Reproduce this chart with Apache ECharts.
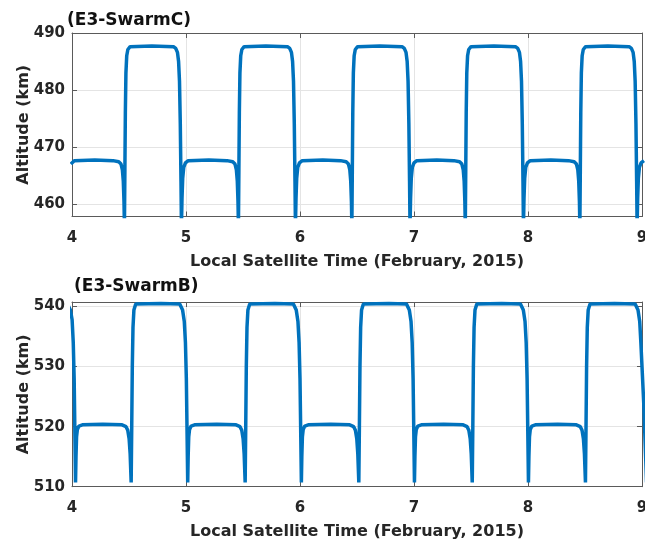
<!DOCTYPE html>
<html>
<head>
<meta charset="utf-8">
<title>Swarm altitude</title>
<script src="https://cdn.jsdelivr.net/npm/echarts@6/dist/echarts.min.js"></script>
<style>
  html, body { margin: 0; padding: 0; background: #fff; }
  #chart { width: 645px; height: 545px; }
</style>
</head>
<body>
<div id="chart"></div>
<script>
// 数据: [local satellite time (day of Feb 2015), altitude km]
var titles = ["(E3-SwarmC)", "(E3-SwarmB)"];
var xName = "Local Satellite Time (February, 2015)";
var yName = "Altitude (km)";
var xTicks = [4, 5, 6, 7, 8, 9];

// SwarmC - 上图
var swarmC = [
  [3.990, 467.0], [3.995, 467.2], [4.020, 467.6], [4.200, 467.7],
  [4.360, 467.6], [4.410, 467.4], [4.430, 467.0], [4.442, 466.0], [4.450, 464.0], [4.456, 460.5], [4.460, 456.0],
  [4.464, 466.0], [4.468, 476.0], [4.473, 483.0], [4.480, 486.0], [4.490, 487.1], [4.510, 487.6], [4.700, 487.7],
  [4.890, 487.6], [4.910, 487.3], [4.925, 486.6], [4.935, 485.0], [4.943, 481.5], [4.950, 474.0], [4.956, 464.0], [4.960, 456.0],
  [4.965, 461.0], [4.971, 464.5], [4.980, 466.4], [4.995, 467.2], [5.020, 467.6], [5.200, 467.7],
  [5.360, 467.6], [5.410, 467.4], [5.430, 467.0], [5.442, 466.0], [5.450, 464.0], [5.456, 460.5], [5.460, 456.0],
  [5.464, 466.0], [5.468, 476.0], [5.473, 483.0], [5.480, 486.0], [5.490, 487.1], [5.510, 487.6], [5.700, 487.7],
  [5.890, 487.6], [5.910, 487.3], [5.925, 486.6], [5.935, 485.0], [5.943, 481.5], [5.950, 474.0], [5.956, 464.0], [5.960, 456.0],
  [5.965, 461.0], [5.971, 464.5], [5.980, 466.4], [5.995, 467.2], [6.020, 467.6], [6.200, 467.7],
  [6.355, 467.6], [6.405, 467.4], [6.425, 467.0], [6.437, 466.0], [6.445, 464.0], [6.451, 460.5], [6.455, 456.0],
  [6.459, 466.0], [6.463, 476.0], [6.468, 483.0], [6.475, 486.0], [6.485, 487.1], [6.505, 487.6], [6.700, 487.7],
  [6.895, 487.6], [6.915, 487.3], [6.930, 486.6], [6.940, 485.0], [6.948, 481.5], [6.955, 474.0], [6.961, 464.0], [6.965, 456.0],
  [6.970, 461.0], [6.976, 464.5], [6.985, 466.4], [7.000, 467.2], [7.025, 467.6], [7.200, 467.7],
  [7.350, 467.6], [7.400, 467.4], [7.420, 467.0], [7.432, 466.0], [7.440, 464.0], [7.446, 460.5], [7.450, 456.0],
  [7.454, 466.0], [7.458, 476.0], [7.463, 483.0], [7.470, 486.0], [7.480, 487.1], [7.500, 487.6], [7.700, 487.7],
  [7.890, 487.6], [7.910, 487.3], [7.925, 486.6], [7.935, 485.0], [7.943, 481.5], [7.950, 474.0], [7.956, 464.0], [7.960, 456.0],
  [7.965, 461.0], [7.971, 464.5], [7.980, 466.4], [7.995, 467.2], [8.020, 467.6], [8.200, 467.7],
  [8.355, 467.6], [8.405, 467.4], [8.425, 467.0], [8.437, 466.0], [8.445, 464.0], [8.451, 460.5], [8.455, 456.0],
  [8.459, 466.0], [8.463, 476.0], [8.468, 483.0], [8.475, 486.0], [8.485, 487.1], [8.505, 487.6], [8.700, 487.7],
  [8.887, 487.6], [8.907, 487.3], [8.922, 486.6], [8.932, 485.0], [8.940, 481.5], [8.947, 474.0], [8.953, 464.0], [8.957, 456.0],
  [8.962, 461.0], [8.968, 464.5], [8.977, 466.4], [8.992, 467.2], [9.017, 467.6]
];

// SwarmB - 下图
var swarmB = [
  [3.961, 540.4], [3.986, 539.4], [4.001, 537.8], [4.011, 534.0], [4.019, 528.0], [4.026, 518.0], [4.031, 510.7],
  [4.035, 515.0], [4.040, 518.3], [4.047, 519.5], [4.061, 520.1], [4.091, 520.3], [4.270, 520.4],
  [4.439, 520.3], [4.474, 520.0], [4.489, 519.4], [4.501, 518.0], [4.510, 515.5], [4.519, 510.7],
  [4.524, 520.0], [4.529, 530.0], [4.535, 536.5], [4.543, 539.4], [4.559, 540.4], [4.780, 540.5],
  [4.945, 540.4], [4.970, 539.4], [4.985, 537.5], [4.995, 534.0], [5.003, 528.0], [5.010, 518.0], [5.015, 510.7],
  [5.019, 515.0], [5.024, 518.3], [5.031, 519.5], [5.045, 520.1], [5.075, 520.3], [5.270, 520.4],
  [5.439, 520.3], [5.474, 520.0], [5.489, 519.4], [5.501, 518.0], [5.510, 515.5], [5.519, 510.7],
  [5.524, 520.0], [5.529, 530.0], [5.535, 536.5], [5.543, 539.4], [5.559, 540.4], [5.780, 540.5],
  [5.942, 540.4], [5.967, 539.4], [5.982, 537.5], [5.992, 534.0], [6.000, 528.0], [6.007, 518.0], [6.012, 510.7],
  [6.016, 515.0], [6.021, 518.3], [6.028, 519.5], [6.042, 520.1], [6.072, 520.3], [6.270, 520.4],
  [6.436, 520.3], [6.471, 520.0], [6.486, 519.4], [6.498, 518.0], [6.507, 515.5], [6.516, 510.7],
  [6.521, 520.0], [6.526, 530.0], [6.532, 536.5], [6.540, 539.4], [6.556, 540.4], [6.780, 540.5],
  [6.934, 540.4], [6.959, 539.4], [6.974, 537.5], [6.984, 534.0], [6.992, 528.0], [6.999, 518.0], [7.004, 510.7],
  [7.008, 515.0], [7.013, 518.3], [7.020, 519.5], [7.034, 520.1], [7.064, 520.3], [7.260, 520.4],
  [7.431, 520.3], [7.466, 520.0], [7.481, 519.4], [7.493, 518.0], [7.502, 515.5], [7.511, 510.7],
  [7.516, 520.0], [7.521, 530.0], [7.527, 536.5], [7.535, 539.4], [7.551, 540.4], [7.770, 540.5],
  [7.934, 540.4], [7.959, 539.4], [7.974, 537.5], [7.984, 534.0], [7.992, 528.0], [7.999, 518.0], [8.004, 510.7],
  [8.008, 515.0], [8.013, 518.3], [8.020, 519.5], [8.034, 520.1], [8.064, 520.3], [8.260, 520.4],
  [8.424, 520.3], [8.459, 520.0], [8.474, 519.4], [8.486, 518.0], [8.495, 515.5], [8.504, 510.7],
  [8.509, 520.0], [8.514, 530.0], [8.520, 536.5], [8.528, 539.4], [8.544, 540.4], [8.760, 540.5],
  [8.940, 540.4], [8.965, 539.4], [8.980, 537.5], [8.990, 534.0], [9.000, 530.0], [9.015, 524.0], [9.040, 510.7]
];

var yRanges = [[457.8, 490], [510, 540.75]];

var chart = echarts.init(document.getElementById("chart"));

var font = "DejaVu Sans";
var boxColor = "#5a5a5a";
var gridColor = "#e4e4e4";
var lineColor = "#0072BD";

function tickFmt(v) {
  // 只显示整十的刻度
  return Math.abs(v % 10) < 1e-6 ? String(Math.round(v)) : "";
}

var grids = [
  { left: 72, top: 33, right: 3, height: 183.5, outerBoundsMode: "none", containLabel: false },
  { left: 72, top: 302, right: 3, height: 184.7, outerBoundsMode: "none", containLabel: false }
];

var xAxes = [], yAxes = [], series = [];
[swarmC, swarmB].forEach(function (data, g) {
  xAxes.push({
    type: "value", gridIndex: g, min: xTicks[0], max: xTicks[xTicks.length - 1], interval: 1,
    position: "bottom",
    name: xName, nameLocation: "middle", nameGap: 37, nameMoveOverlap: false,
    nameTextStyle: { fontFamily: font, fontWeight: "bold", fontSize: 16, color: "#262626" },
    axisLine: { show: true, onZero: false, lineStyle: { color: boxColor, width: 1 } },
    axisTick: { show: true, inside: true, length: 5, lineStyle: { color: boxColor } },
    axisLabel: { margin: 14, fontFamily: font, fontWeight: "bold", fontSize: 15, color: "#262626" },
    splitLine: { show: true, lineStyle: { color: gridColor, width: 1 } }
  });
  // 上边框
  xAxes.push({
    type: "value", gridIndex: g, min: xTicks[0], max: xTicks[xTicks.length - 1], interval: 1,
    position: "top",
    axisLine: { show: true, onZero: false, lineStyle: { color: boxColor, width: 1 } },
    axisTick: { show: true, inside: true, length: 5, lineStyle: { color: boxColor } },
    axisLabel: { show: false },
    splitLine: { show: false }
  });
  var yr = yRanges[g];
  var yCommon = {
    type: "value", gridIndex: g, min: yr[0], max: yr[1]
  };
  if (g === 1) yCommon.interval = 10; else yCommon.splitNumber = 3;
  yAxes.push(Object.assign({}, yCommon, {
    position: "left",
    name: yName, nameLocation: "middle", nameGap: 40, nameMoveOverlap: false,
    nameTextStyle: { fontFamily: font, fontWeight: "bold", fontSize: 16, color: "#262626" },
    axisLine: { show: true, onZero: false, lineStyle: { color: boxColor, width: 1 } },
    axisTick: { show: true, inside: true, length: 5, lineStyle: { color: boxColor } },
    axisLabel: { margin: 7, fontFamily: font, fontWeight: "bold", fontSize: 15, color: "#262626", formatter: tickFmt },
    splitLine: { show: true, lineStyle: { color: gridColor, width: 1 } }
  }));
  // 右边框
  yAxes.push(Object.assign({}, yCommon, {
    position: "right",
    axisLine: { show: true, onZero: false, lineStyle: { color: boxColor, width: 1 } },
    axisTick: { show: true, inside: true, length: 5, lineStyle: { color: boxColor } },
    axisLabel: { show: false },
    splitLine: { show: false }
  }));
  series.push({
    type: "line",
    xAxisIndex: g * 2, yAxisIndex: g * 2,
    data: data,
    showSymbol: false,
    clip: true,
    lineStyle: { color: lineColor, width: 3.5 },
    itemStyle: { color: lineColor }
  });
});

var option = {
  animation: false,
  backgroundColor: "#fff",
  title: [
    { text: titles[0], left: 67, top: 12, padding: 0,
      textStyle: { fontFamily: font, fontWeight: "bold", fontSize: 17, color: "#111" } },
    { text: titles[1], left: 74, top: 278, padding: 0,
      textStyle: { fontFamily: font, fontWeight: "bold", fontSize: 17, color: "#111" } }
  ],
  grid: grids,
  xAxis: xAxes,
  yAxis: yAxes,
  series: series
};

chart.setOption(option);
</script>
</body>
</html>
